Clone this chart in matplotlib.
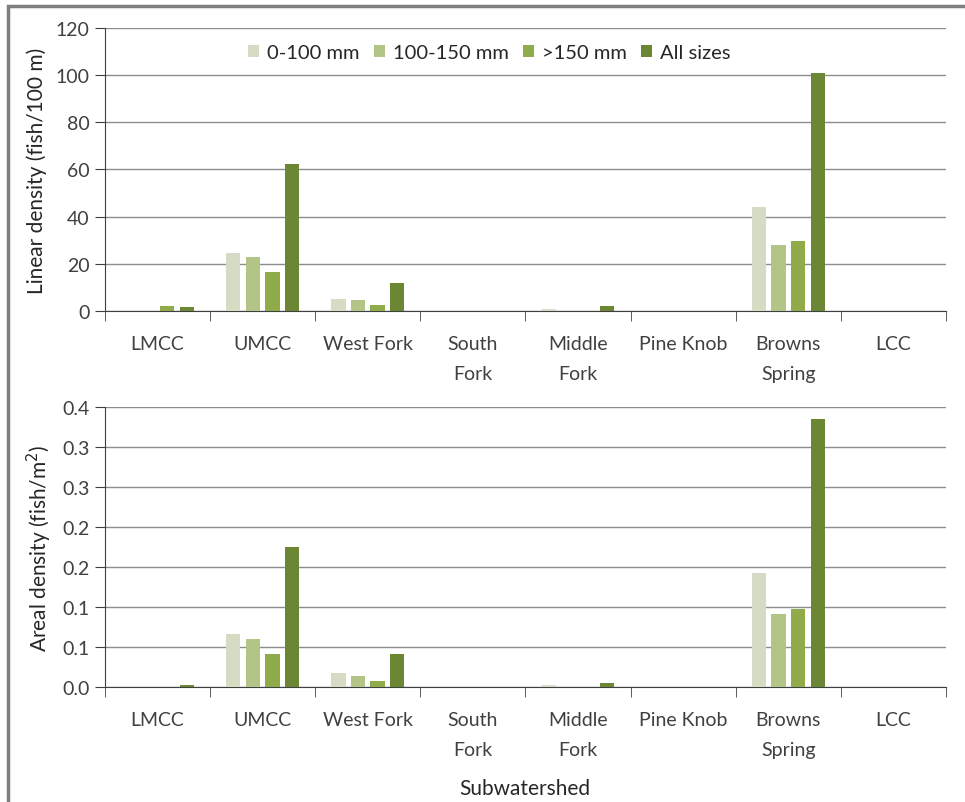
# fish density by subwatershed and size class
import matplotlib.pyplot as plt
import numpy as np

plt.rcParams['font.family'] = ['Lato', 'DejaVu Sans']

# data
subwatersheds = ['LMCC', 'UMCC', 'West Fork', 'South\nFork', 'Middle\nFork',
                 'Pine Knob', 'Browns\nSpring', 'LCC']
size_classes = ['0-100 mm', '100-150 mm', '>150 mm', 'All sizes']

linear_0_100 = [0.0, 24.5, 5.0, 0.0, 1.0, 0.0, 44.0, 0.0]
linear_100_150 = [0.0, 22.8, 4.5, 0.0, 0.0, 0.0, 28.0, 0.0]
linear_150 = [2.0, 16.5, 2.5, 0.0, 0.0, 0.0, 29.5, 0.0]
linear_all = [1.5, 62.5, 12.0, 0.0, 2.0, 0.0, 101.0, 0.0]

areal_0_100 = [0.0, 0.066, 0.0175, 0.0, 0.002, 0.0, 0.1425, 0.0]
areal_100_150 = [0.0, 0.060, 0.014, 0.0, 0.0, 0.0, 0.091, 0.0]
areal_150 = [0.0, 0.041, 0.0075, 0.0, 0.0, 0.0, 0.0975, 0.0]
areal_all = [0.002, 0.175, 0.041, 0.0, 0.005, 0.0, 0.335, 0.0]

linear_ticks = [0, 20, 40, 60, 80, 100, 120]
areal_ticks = [0.0, 0.05, 0.10, 0.15, 0.20, 0.25, 0.30, 0.35]
areal_ticklabels = ['0.0', '0.1', '0.1', '0.2', '0.2', '0.3', '0.3', '0.4']

colors = ['#d6dcc3', '#b3c586', '#8fab4a', '#6c8733']
grid_col = '#8c8c8c'
axis_col = '#404040'
text_col = '#404040'


def draw_panel(ax, series, ticks, ticklabels, ylabel):
    x = np.arange(len(subwatersheds))
    step = 0.186
    width = 0.135
    for i, (vals, col, lab) in enumerate(zip(series, colors, size_classes)):
        ax.bar(x + (i - 1.5) * step, vals, width, color=col, label=lab, zorder=3)

    ax.set_xlim(-0.5, len(subwatersheds) - 0.5)
    ax.set_ylim(ticks[0], ticks[-1])
    ax.set_yticks(ticks)
    ax.set_yticklabels(ticklabels, fontsize=14, color=text_col)
    ax.yaxis.grid(True, color=grid_col, linewidth=1.0, zorder=0)

    # category labels in the middle, ticks on the group boundaries
    ax.set_xticks(x)
    ax.set_xticklabels(subwatersheds, fontsize=14, color=text_col)
    ax.set_xticks(np.arange(len(subwatersheds) + 1) - 0.5, minor=True)
    ax.tick_params(axis='x', which='major', length=0, pad=17)
    ax.tick_params(axis='x', which='minor', length=7, color=axis_col, direction='out')
    ax.tick_params(axis='y', length=7, color=axis_col, direction='out', pad=4)
    for lbl in ax.get_xticklabels():
        lbl.set_linespacing(1.95)
        lbl.set_verticalalignment('top')

    for s in ['top', 'right']:
        ax.spines[s].set_visible(False)
    ax.spines['left'].set_color(axis_col)
    ax.spines['bottom'].set_color(axis_col)
    ax.set_ylabel(ylabel, fontsize=15, color='#262626', labelpad=6)


fig = plt.figure(figsize=(9.65, 8.03), dpi=100)

ax1 = fig.add_axes([0.1088, 0.6115, 0.8715, 0.3524])
draw_panel(ax1, [linear_0_100, linear_100_150, linear_150, linear_all],
           linear_ticks, [str(t) for t in linear_ticks],
           'Linear density (fish/100 m)')
ax1.legend(loc='center', bbox_to_anchor=(0.457, 0.912), ncol=4, frameon=False,
           fontsize=14.5, handlelength=0.55, handleheight=0.55, handletextpad=0.4,
           columnspacing=0.7, labelcolor='#262626')

ax2 = fig.add_axes([0.1088, 0.1432, 0.8715, 0.3487])
draw_panel(ax2, [areal_0_100, areal_100_150, areal_150, areal_all],
           areal_ticks, areal_ticklabels,
           'Areal density (fish/m$^2$)')

# shared x axis title
fig.text(0.544, 0.017, 'Subwatershed', fontsize=15, color='#262626',
         ha='center', va='center')

# outer frame
fig.patches.append(plt.Rectangle((8 / 965, -0.05), 1.1, 1 - 7 / 803 + 0.05,
                                 transform=fig.transFigure, fill=False,
                                 edgecolor='#7f7f7f', linewidth=2.5))

plt.savefig('out.png', dpi=100)
